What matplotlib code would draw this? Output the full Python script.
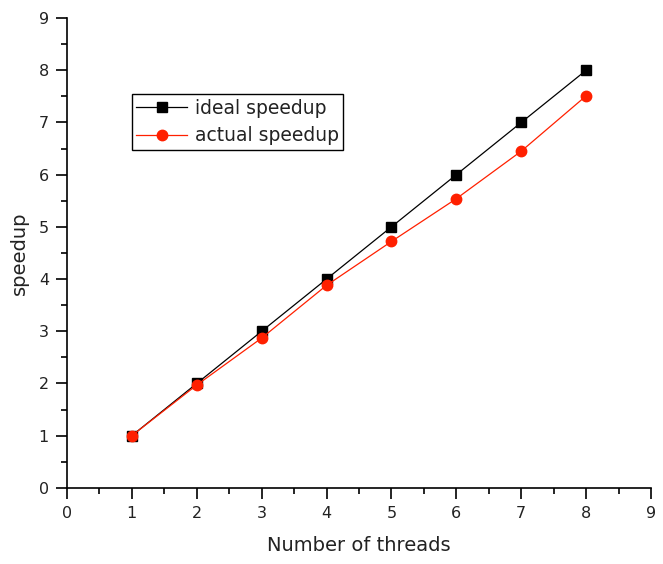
import matplotlib
matplotlib.use("Agg")
import matplotlib.pyplot as plt
from matplotlib.ticker import MultipleLocator

threads = [1, 2, 3, 4, 5, 6, 7, 8]
ideal = [1, 2, 3, 4, 5, 6, 7, 8]
actual = [1.0, 1.97, 2.87, 3.88, 4.72, 5.54, 6.45, 7.51]

plt.rcParams['font.family'] = ['DejaVu Sans']

fig = plt.figure(figsize=(6.63, 5.64), dpi=100)
ax = fig.add_axes([0.101, 0.135, 0.881, 0.833])

ax.plot(threads, ideal, color='black', lw=0.9, marker='s', ms=6.5,
        label='ideal speedup')
ax.plot(threads, actual, color='#ff2000', lw=0.9, marker='o', ms=7.5,
        label='actual speedup')

ax.set_xlim(0, 9)
ax.set_ylim(0, 9)
ax.xaxis.set_major_locator(MultipleLocator(1))
ax.yaxis.set_major_locator(MultipleLocator(1))
ax.xaxis.set_minor_locator(MultipleLocator(0.5))
ax.yaxis.set_minor_locator(MultipleLocator(0.5))
ax.spines['top'].set_visible(False)
ax.spines['right'].set_visible(False)
ax.spines['left'].set_linewidth(1.2)
ax.spines['bottom'].set_linewidth(1.2)
ax.tick_params(which='major', direction='out', length=8, width=1.2,
               labelsize=11.5, pad=5, labelcolor='#222222')
ax.tick_params(which='minor', direction='out', length=4, width=1.2)

ax.set_xlabel('Number of threads', fontsize=14, labelpad=11, color='#222222')
ax.set_ylabel('speedup', fontsize=14, labelpad=7, color='#222222')

leg = ax.legend(loc='upper left', bbox_to_anchor=(0.111, 0.838),
                fontsize=13.5, fancybox=False, framealpha=1,
                edgecolor='black', borderpad=0.25, handlelength=2.7,
                handletextpad=0.4, labelspacing=0.45, borderaxespad=0)
leg.get_frame().set_linewidth(1.0)
for t in leg.get_texts():
    t.set_color('#222222')

fig.savefig('out.png', dpi=100)
